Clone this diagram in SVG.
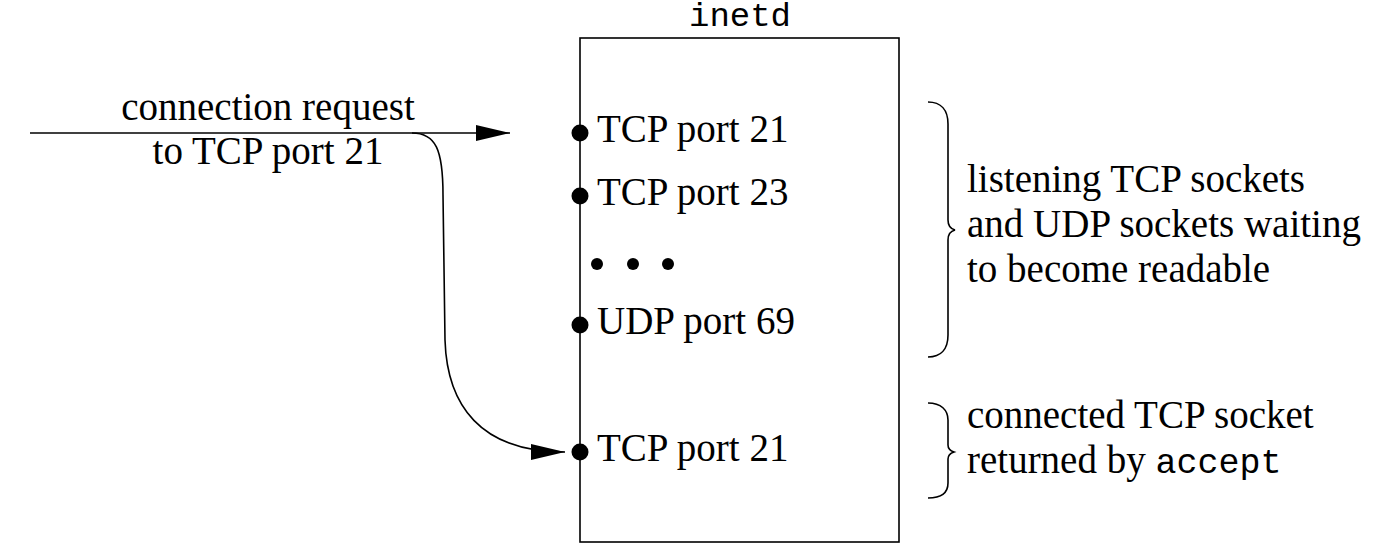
<svg xmlns="http://www.w3.org/2000/svg" width="1384" height="556" viewBox="0 0 1384 556">
<style>
.t{font-family:"Liberation Serif","Times New Roman",serif;font-size:39px;fill:#000}
.m{font-family:"Liberation Mono","Courier New",monospace;font-size:34px;fill:#000}
.ma{font-family:"Liberation Mono","Courier New",monospace;font-size:35px;fill:#000}
.ln{fill:none;stroke:#000;stroke-width:1.6}
.dot{fill:#000}
</style>
<defs>
<marker id="ah" markerWidth="34" markerHeight="16" refX="34" refY="8" orient="auto" markerUnits="userSpaceOnUse">
<path d="M0,0 L34,8 L0,16 Z" fill="#000"/>
</marker>
</defs>
<rect width="1384" height="556" fill="#fff"/>
<g id="inetd">
<rect class="ln" x="580" y="38" width="319" height="504"/>
<text class="m" x="740" y="26" text-anchor="middle">inetd</text>
</g>
<g id="tcp21">
<circle class="dot" cx="580" cy="133" r="8.5"/>
<text class="t" x="597" y="142">TCP port 21</text>
</g>
<g id="tcp23">
<circle class="dot" cx="580" cy="196" r="8.5"/>
<text class="t" x="597" y="205">TCP port 23</text>
</g>
<g id="ellipsis">
<circle class="dot" cx="597" cy="264" r="6"/>
<circle class="dot" cx="633" cy="264" r="6"/>
<circle class="dot" cx="668" cy="264" r="6"/>
</g>
<g id="udp69">
<circle class="dot" cx="580" cy="325" r="8.5"/>
<text class="t" x="597" y="334">UDP port 69</text>
</g>
<g id="tcp21conn">
<circle class="dot" cx="580" cy="452" r="8.5"/>
<text class="t" x="597" y="461">TCP port 21</text>
</g>
<g id="request-label">
<text class="t" x="268" y="120" text-anchor="middle">connection request</text>
<text class="t" x="268" y="164" text-anchor="middle">to TCP port 21</text>
</g>
<g id="connectors">
<path class="ln" d="M30,133 L510,133" marker-end="url(#ah)"/>
<path class="ln" d="M412,133 C436,133 443,150 443,195 L445,340 C447,405 480,452 565,452" marker-end="url(#ah)"/>
</g>
<g id="brace-listening">
<path class="ln" d="M928,102 C941,102 948,110 948,124 L948,220 C948,226 951,229 955,230 C951,231 948,234 948,240 L948,335 C948,349 941,357 928,357"/>
<text class="t" x="967" y="192">listening TCP sockets</text>
<text class="t" x="967" y="237">and UDP sockets waiting</text>
<text class="t" x="967" y="282">to become readable</text>
</g>
<g id="brace-connected">
<path class="ln" d="M928,403 C941,403 948,410 948,420 L948,445 C948,449 951,451 954,452 C951,453 948,455 948,459 L948,483 C948,493 941,498 928,498"/>
<text class="t" x="967" y="428">connected TCP socket</text>
<text x="967" y="473"><tspan class="t">returned by </tspan><tspan class="ma">accept</tspan></text>
</g>
</svg>
